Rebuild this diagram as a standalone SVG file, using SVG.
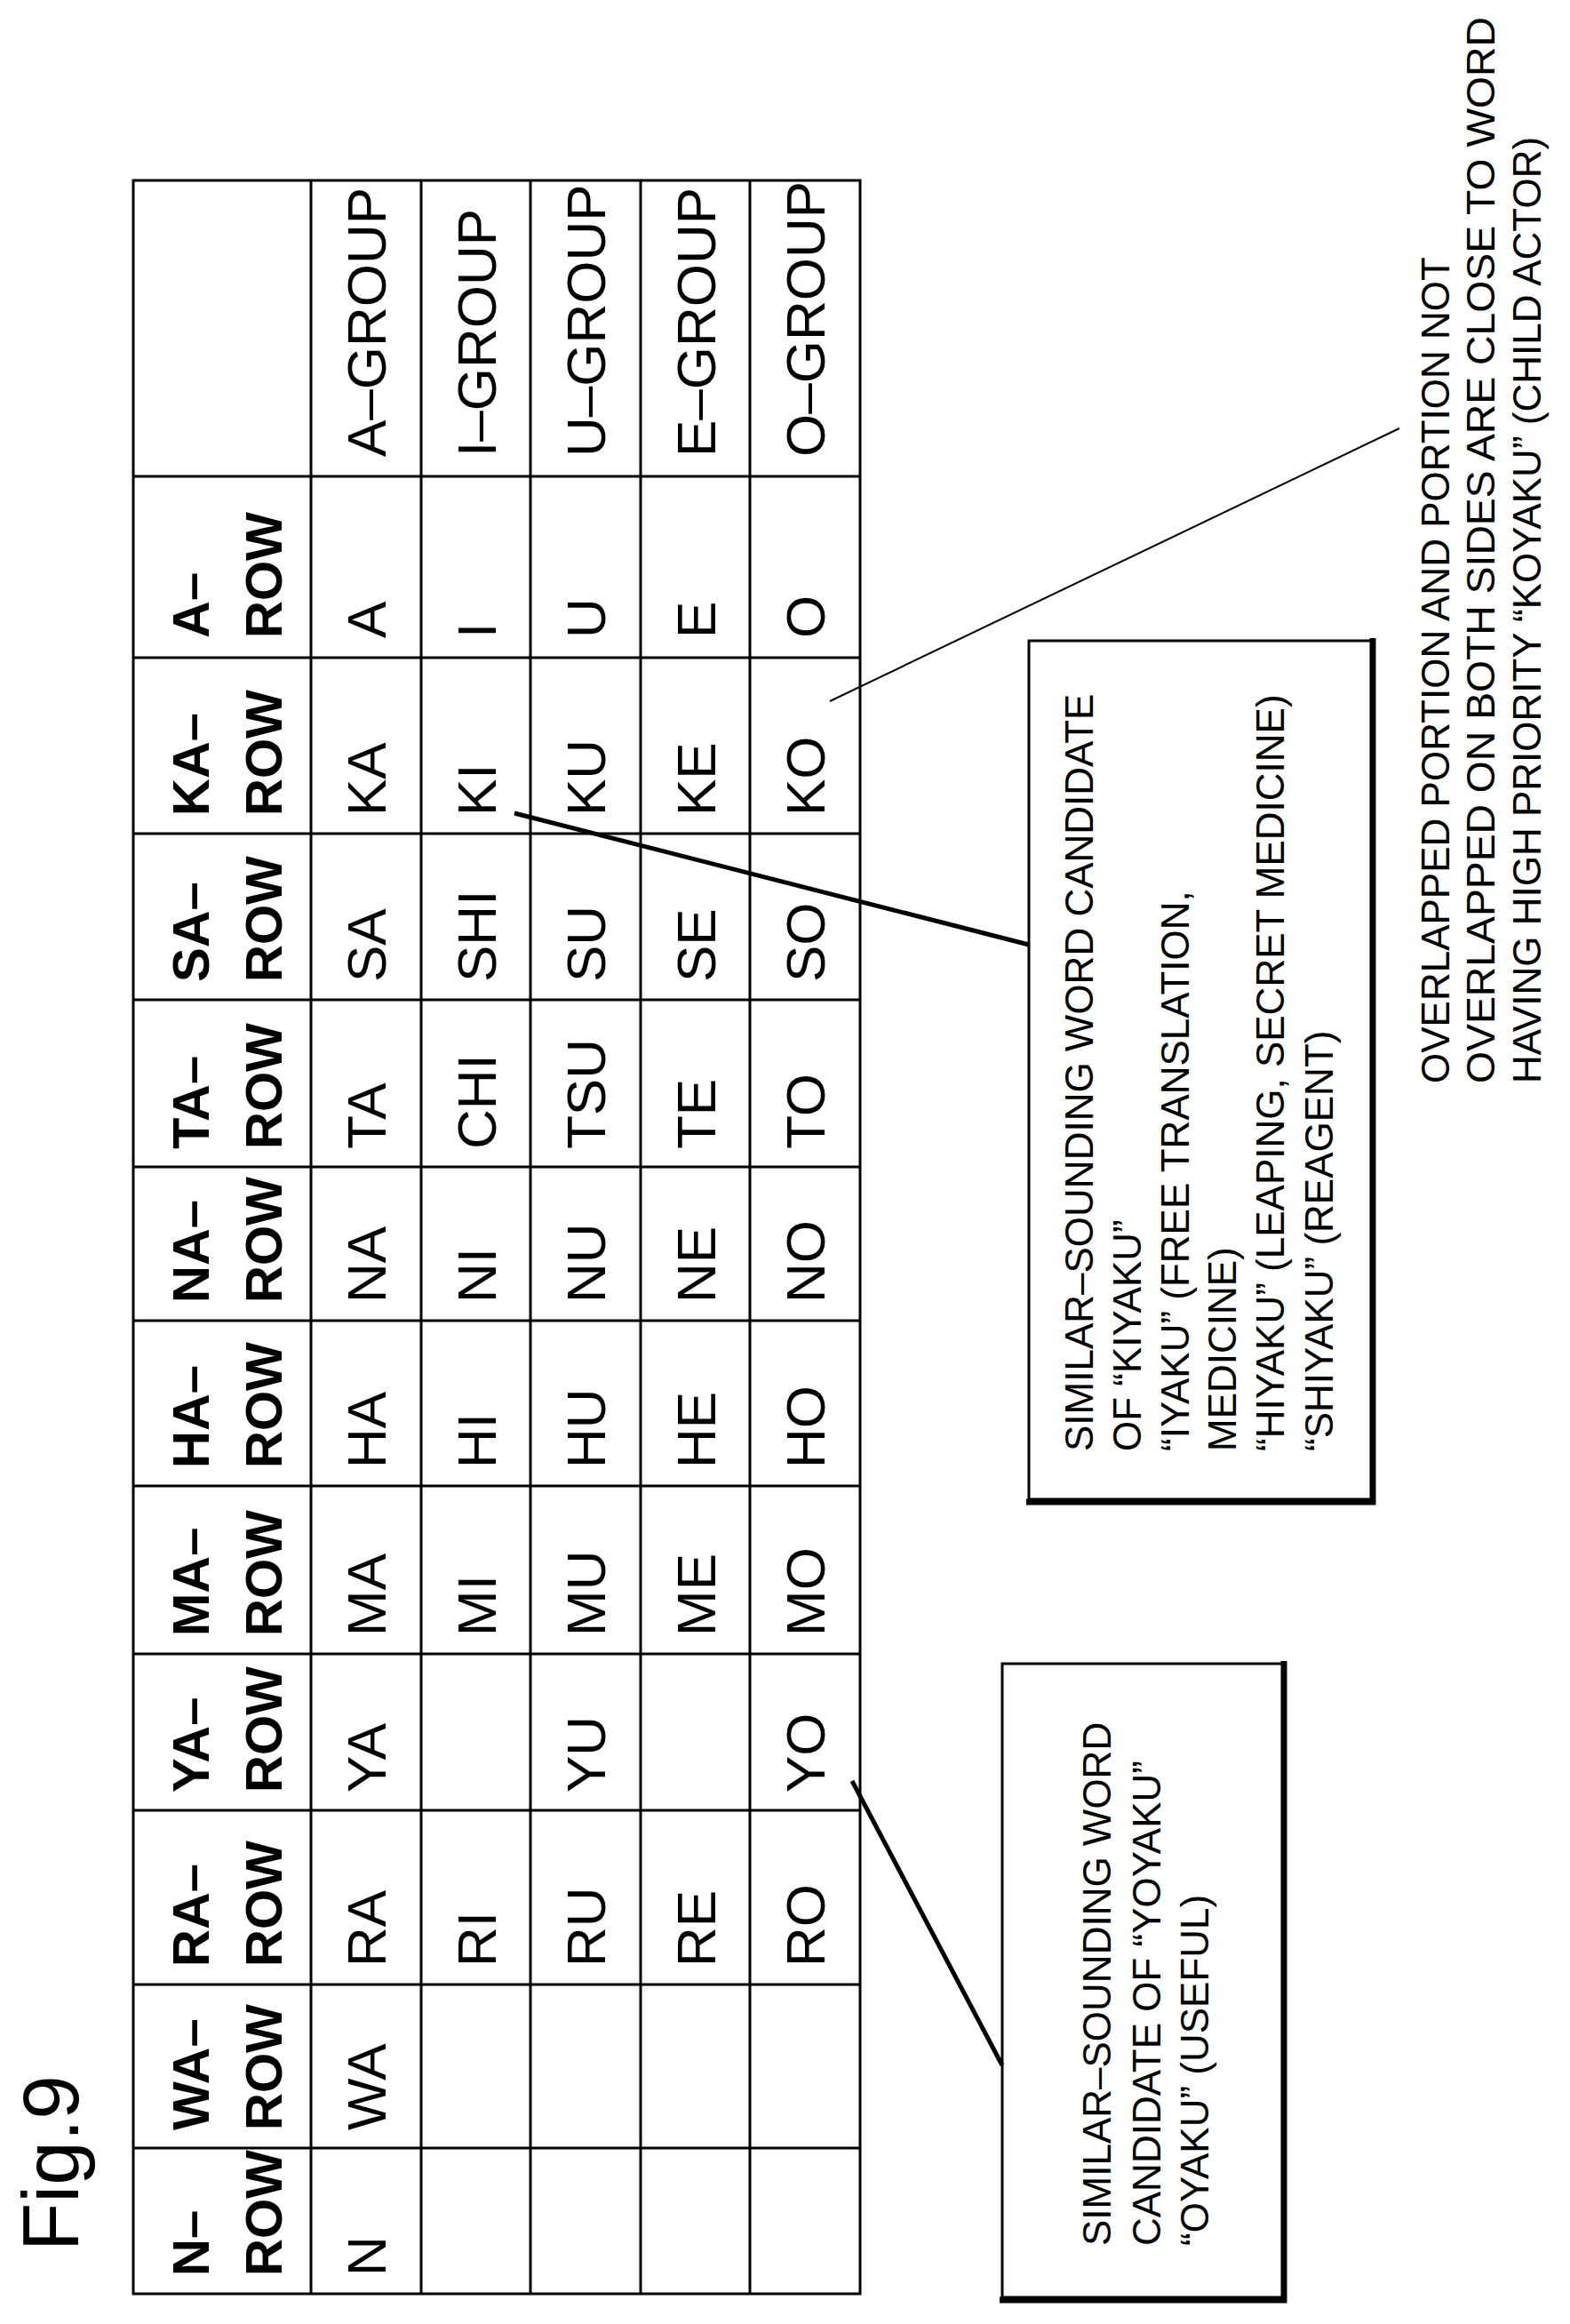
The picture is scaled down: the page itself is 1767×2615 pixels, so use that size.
<svg xmlns="http://www.w3.org/2000/svg" width="1767" height="2615" viewBox="0 0 1767 2615">
<style>
text{font-family:"Liberation Sans",Arial,sans-serif;fill:#000}
.h{font-size:58px;font-weight:bold}
.c{font-size:62px}
.s{font-size:44px}
.g{stroke:#000;stroke-width:3;fill:none}
</style>
<rect width="1767" height="2615" fill="#fff"/>
<text transform="translate(88,2533) rotate(-90)" style="font-size:89px">Fig.9</text>
<g id="table">
<rect class="g" x="150" y="203" width="818" height="2378"/>
<path class="g" d="M350 203V2581M474 203V2581M597 203V2581M721 203V2581M844 203V2581M150 536H968M150 740H968M150 938H968M150 1125H968M150 1313H968M150 1486H968M150 1672H968M150 1861H968M150 2037H968M150 2233H968M150 2417H968"/>
</g>
<g id="cells">
<text class="c" transform="translate(434,514) rotate(-90)">A–GROUP</text>
<text class="c" transform="translate(558,514) rotate(-90)">I–GROUP</text>
<text class="c" transform="translate(681,514) rotate(-90)">U–GROUP</text>
<text class="c" transform="translate(805,514) rotate(-90)">E–GROUP</text>
<text class="c" transform="translate(928,514) rotate(-90)">O–GROUP</text>

<text class="h" transform="translate(235,718) rotate(-90)">A–</text><text class="h" transform="translate(317,718) rotate(-90)">ROW</text>
<text class="c" transform="translate(434,718) rotate(-90)">A</text><text class="c" transform="translate(558,718) rotate(-90)">I</text><text class="c" transform="translate(681,718) rotate(-90)">U</text><text class="c" transform="translate(805,718) rotate(-90)">E</text><text class="c" transform="translate(928,718) rotate(-90)">O</text>

<text class="h" transform="translate(235,918) rotate(-90)">KA–</text><text class="h" transform="translate(317,918) rotate(-90)">ROW</text>
<text class="c" transform="translate(434,918) rotate(-90)">KA</text><text class="c" transform="translate(558,918) rotate(-90)">KI</text><text class="c" transform="translate(681,918) rotate(-90)">KU</text><text class="c" transform="translate(805,918) rotate(-90)">KE</text><text class="c" transform="translate(928,918) rotate(-90)">KO</text>

<text class="h" transform="translate(235,1105) rotate(-90)">SA–</text><text class="h" transform="translate(317,1105) rotate(-90)">ROW</text>
<text class="c" transform="translate(434,1105) rotate(-90)">SA</text><text class="c" transform="translate(558,1105) rotate(-90)">SHI</text><text class="c" transform="translate(681,1105) rotate(-90)">SU</text><text class="c" transform="translate(805,1105) rotate(-90)">SE</text><text class="c" transform="translate(928,1105) rotate(-90)">SO</text>

<text class="h" transform="translate(235,1293) rotate(-90)">TA–</text><text class="h" transform="translate(317,1293) rotate(-90)">ROW</text>
<text class="c" transform="translate(434,1293) rotate(-90)">TA</text><text class="c" transform="translate(558,1293) rotate(-90)">CHI</text><text class="c" transform="translate(681,1293) rotate(-90)">TSU</text><text class="c" transform="translate(805,1293) rotate(-90)">TE</text><text class="c" transform="translate(928,1293) rotate(-90)">TO</text>

<text class="h" transform="translate(235,1466) rotate(-90)">NA–</text><text class="h" transform="translate(317,1466) rotate(-90)">ROW</text>
<text class="c" transform="translate(434,1466) rotate(-90)">NA</text><text class="c" transform="translate(558,1466) rotate(-90)">NI</text><text class="c" transform="translate(681,1466) rotate(-90)">NU</text><text class="c" transform="translate(805,1466) rotate(-90)">NE</text><text class="c" transform="translate(928,1466) rotate(-90)">NO</text>

<text class="h" transform="translate(235,1652) rotate(-90)">HA–</text><text class="h" transform="translate(317,1652) rotate(-90)">ROW</text>
<text class="c" transform="translate(434,1652) rotate(-90)">HA</text><text class="c" transform="translate(558,1652) rotate(-90)">HI</text><text class="c" transform="translate(681,1652) rotate(-90)">HU</text><text class="c" transform="translate(805,1652) rotate(-90)">HE</text><text class="c" transform="translate(928,1652) rotate(-90)">HO</text>

<text class="h" transform="translate(235,1841) rotate(-90)">MA–</text><text class="h" transform="translate(317,1841) rotate(-90)">ROW</text>
<text class="c" transform="translate(434,1841) rotate(-90)">MA</text><text class="c" transform="translate(558,1841) rotate(-90)">MI</text><text class="c" transform="translate(681,1841) rotate(-90)">MU</text><text class="c" transform="translate(805,1841) rotate(-90)">ME</text><text class="c" transform="translate(928,1841) rotate(-90)">MO</text>

<text class="h" transform="translate(235,2017) rotate(-90)">YA–</text><text class="h" transform="translate(317,2017) rotate(-90)">ROW</text>
<text class="c" transform="translate(434,2017) rotate(-90)">YA</text><text class="c" transform="translate(681,2017) rotate(-90)">YU</text><text class="c" transform="translate(928,2017) rotate(-90)">YO</text>

<text class="h" transform="translate(235,2213) rotate(-90)">RA–</text><text class="h" transform="translate(317,2213) rotate(-90)">ROW</text>
<text class="c" transform="translate(434,2213) rotate(-90)">RA</text><text class="c" transform="translate(558,2213) rotate(-90)">RI</text><text class="c" transform="translate(681,2213) rotate(-90)">RU</text><text class="c" transform="translate(805,2213) rotate(-90)">RE</text><text class="c" transform="translate(928,2213) rotate(-90)">RO</text>

<text class="h" transform="translate(235,2397) rotate(-90)">WA–</text><text class="h" transform="translate(317,2397) rotate(-90)">ROW</text>
<text class="c" transform="translate(434,2397) rotate(-90)">WA</text>

<text class="h" transform="translate(235,2561) rotate(-90)">N–</text><text class="h" transform="translate(317,2561) rotate(-90)">ROW</text>
<text class="c" transform="translate(434,2561) rotate(-90)">N</text>
</g>
<g id="connectors" stroke="#000" fill="none">
<line x1="1158" y1="1063" x2="579" y2="915" stroke-width="5"/>
<line x1="1128" y1="2324" x2="959" y2="2004" stroke-width="5"/>
<line x1="934" y1="789" x2="1575" y2="482" stroke-width="2"/>
</g>
<g id="box-kiyaku">
<rect class="g" x="1158" y="721" width="387" height="966"/>
<path d="M1545 718V1690H1155" stroke="#000" stroke-width="7" fill="none"/>
<text class="s" transform="translate(1230,1633) rotate(-90)">SIMILAR–SOUNDING WORD CANDIDATE</text>
<text class="s" transform="translate(1284,1633) rotate(-90)">OF “KIYAKU”</text>
<text class="s" transform="translate(1338,1633) rotate(-90)">“IYAKU” (FREE TRANSLATION,</text>
<text class="s" transform="translate(1391,1633) rotate(-90)">MEDICINE)</text>
<text class="s" transform="translate(1445,1633) rotate(-90)">“HIYAKU” (LEAPING, SECRET MEDICINE)</text>
<text class="s" transform="translate(1500,1633) rotate(-90)">“SHIYAKU” (REAGENT)</text>
</g>
<g id="box-yoyaku">
<rect class="g" x="1128" y="1872" width="317" height="713"/>
<path d="M1445 1869V2588H1125" stroke="#000" stroke-width="7" fill="none"/>
<text class="s" transform="translate(1250,2527) rotate(-90)">SIMILAR–SOUNDING WORD</text>
<text class="s" transform="translate(1306,2527) rotate(-90)">CANDIDATE OF “YOYAKU”</text>
<text class="s" transform="translate(1360,2527) rotate(-90)">“OYAKU” (USEFUL)</text>
</g>
<g id="note">
<text class="s" transform="translate(1631,1219) rotate(-90)">OVERLAPPED PORTION AND PORTION NOT</text>
<text class="s" transform="translate(1682,1219) rotate(-90)" textLength="1200" lengthAdjust="spacingAndGlyphs">OVERLAPPED ON BOTH SIDES ARE CLOSE TO WORD</text>
<text class="s" transform="translate(1734,1219) rotate(-90)">HAVING HIGH PRIORITY “KOYAKU” (CHILD ACTOR)</text>
</g>
</svg>
